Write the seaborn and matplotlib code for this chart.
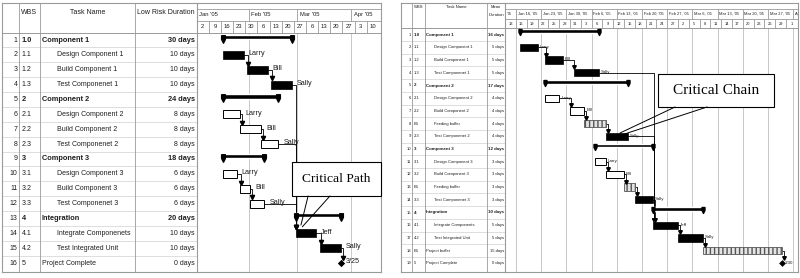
import numpy as np
import pandas as pd
import matplotlib
matplotlib.use("Agg")
import matplotlib.pyplot as plt
import seaborn as sns
from matplotlib.path import Path
from matplotlib.patches import Rectangle

# ================= DATA: left schedule (low-risk durations, critical path) =================
L_wbs = ['1.0', '1.1', '1.2', '1.3', '2', '2.1', '2.2', '2.3', '3', '3.1', '3.2', '3.3',
         '4', '4.1', '4.2', '5']
L_names = ['Component 1', 'Design Component 1', 'Build Component 1', 'Test Componenet 1',
           'Component 2', 'Design Component 2', 'Build Component 2', 'Test Componenet 2',
           'Component 3', 'Design Component 3', 'Build Component 3', 'Test Componenet 3',
           'Integration', 'Integrate Componenets', 'Test Integrated Unit', 'Project Complete']
L_dur = ['30 days', '10 days', '10 days', '10 days', '24 days', '8 days', '8 days', '8 days',
         '18 days', '6 days', '6 days', '6 days', '20 days', '10 days', '10 days', '0 days']
L_level = [0, 1, 1, 1, 0, 1, 1, 1, 0, 1, 1, 1, 0, 1, 1, 0]
L_kind = ['sum', 'crit', 'crit', 'crit', 'sum', 'task', 'task', 'task', 'sum', 'task', 'task',
          'task', 'sum', 'crit', 'crit', 'mile']
# calendar days after Sun Jan 2, 2005
L_start = [15, 15, 29, 43, 15, 15, 25, 37, 15, 15, 25, 31, 57, 57, 71, 83]
L_end = [55, 27, 41, 55, 47, 25, 37, 47, 39, 23, 31, 39, 83, 69, 83, 83]
L_res = ['', 'Larry', 'Bill', 'Sally', '', 'Larry', 'Bill', 'Sally', '', 'Larry', 'Bill', 'Sally',
         '', 'Jeff', 'Sally', '3/25']
L_links = [(2, 3), (3, 4), (6, 7), (7, 8), (10, 11), (11, 12), (4, 14), (8, 14), (12, 14),
           (14, 15), (15, 16)]
L_hdr = ['', 'WBS', 'Task Name', 'Low Risk Duration']
L_top_labels = ["Jan '05", "Feb '05", "Mar '05", "Apr '05"]
L_top_starts = [-1, 30, 58, 89]
L_bot_labels = ['2', '9', '16', '23', '30', '6', '13', '20', '27', '6', '13', '20', '27', '3', '10']
L_bot_starts = [0, 7, 14, 21, 28, 35, 42, 49, 56, 63, 70, 77, 84, 91, 98]
L_grid = [30, 58, 89]

# ================= DATA: right schedule (mean durations, critical chain) =================
R_wbs = ['1.0', '1.1', '1.2', '1.3', '2', '2.1', '2.2', 'B1', '2.3', '3', '3.1', '3.2', 'B1',
         '3.3', '4', '4.1', '4.2', 'B1', '5']
R_names = ['Component 1', 'Design Component 1', 'Build Component 1', 'Test Componenet 1',
           'Component 2', 'Design Component 2', 'Build Component 2', 'Feeding buffer',
           'Test Componenet 2', 'Component 3', 'Design Component 3', 'Build Component 3',
           'Feeding buffer', 'Test Componenet 3', 'Integration', 'Integrate Components',
           'Test Integrated Unit', 'Project buffer', 'Project Complete']
R_dur = ['16 days', '5 days', '5 days', '5 days', '17 days', '4 days', '4 days', '4 days',
         '4 days', '12 days', '3 days', '3 days', '3 days', '3 days', '10 days', '5 days',
         '5 days', '15 days', '0 days']
R_level = [0, 1, 1, 1, 0, 1, 1, 1, 1, 0, 1, 1, 1, 1, 0, 1, 1, 0, 0]
R_kind = ['sum', 'crit', 'crit', 'crit', 'sum', 'task', 'task', 'buf', 'crit', 'sum', 'task',
          'task', 'buf', 'crit', 'sum', 'crit', 'crit', 'buf', 'mile']
# calendar days after Sun Jan 16, 2005
R_start = [1, 1, 8, 16, 8, 8, 15, 19, 25, 22, 22, 25, 30, 33, 38, 38, 45, 52, 74]
R_end = [23, 6, 13, 23, 31, 12, 19, 25, 31, 38, 25, 30, 33, 38, 52, 45, 52, 73.8, 74]
R_res = ['', 'Larry', 'Bill', 'Sally', '', 'Larry', 'Bill', '', 'Sally', '', 'Larry', 'Bill', '',
         'Sally', '', 'Jeff', 'Sally', '', '3/30']
R_links = [(2, 3), (3, 4), (6, 7), (7, 8), (8, 9), (11, 12), (12, 13), (13, 14), (4, 16),
           (9, 16), (14, 16), (16, 17), (17, 18), (18, 19)]
R_hdr = ['', 'WBS', 'Task Name', 'Mean\nDuration']
R_top_labels = ["'05", "Jan 16, '05", "Jan 23, '05", "Jan 30, '05", "Feb 6, '05",
                "Feb 13, '05", "Feb 20, '05", "Feb 27, '05", "Mar 6, '05", "Mar 13, '05",
                "Mar 20, '05", "Mar 27, '05", "Apr 3, '05"]
R_top_starts = [-7, 0, 7, 14, 21, 28, 35, 42, 49, 56, 63, 70, 77]
R_bot_labels = ['13', '16', '19', '22', '25', '28', '31', '3', '6', '9', '12', '15', '18', '21',
                '24', '27', '2', '5', '8', '11', '14', '17', '20', '23', '26', '29', '1']
R_bot_starts = [-3, 0, 3, 6, 9, 12, 15, 18, 21, 24, 27, 30, 33, 36, 39, 42, 45, 48, 51, 54, 57,
                60, 63, 66, 69, 72, 75]
R_grid = [0, 7, 14, 21, 28, 35, 42, 49, 56, 63, 70, 77]

# ================= STYLE =================
sns.set_theme(style="white")
plt.rcParams['font.family'] = ['Liberation Sans', 'DejaVu Sans']
W, H = 800, 278
fig = plt.figure(figsize=(8.0, 2.78), dpi=100)
fig.patch.set_facecolor('white')
BORDER = '#9a9a9a'
GRID = '#c8c8c8'
ROWLINE = '#d0d0d0'
TXT = '#1e1e1e'

cap_path = Path([(-0.5, 1), (0.5, 1), (0.5, 0.0), (0, -1), (-0.5, 0.0), (-0.5, 1)],
                [Path.MOVETO, Path.LINETO, Path.LINETO, Path.LINETO, Path.LINETO, Path.CLOSEPOLY])


def make_ax(x0, x1, top, bot, xlim, ylim):
    ax = fig.add_axes([x0 / W, 1 - bot / H, (x1 - x0) / W, (bot - top) / H])
    ax.set_xlim(*xlim)
    ax.set_ylim(*ylim)
    ax.set_xticks([])
    ax.set_yticks([])
    for sp in ax.spines.values():
        sp.set_visible(False)
    ax.patch.set_alpha(0)
    return ax


def draw_panel(P, wbs, names, dur, level, kind, start, end, res, links, hdr,
               top_labels, top_starts, bot_labels, bot_starts, grid):
    top, bot, y0, rh = P['top'], P['bot'], P['row_y0'], P['row_h']

    def r_of(ypx):
        return 1 + (ypx - y0) / rh

    ylim = (r_of(bot), r_of(top))
    cols = P['cols']
    tab = make_ax(cols[0], cols[-1], top, bot, (cols[0], cols[-1]), ylim)
    s, d0 = P['pxd'], P['day0']
    xl = ((cols[-1] - d0) / s, (P['xr'] - d0) / s)
    gan = make_ax(cols[-1], P['xr'], top, bot, xl, ylim)
    n = len(names)
    fs, fsb = P['fs'], P['fsb']

    # ---- table grid ----
    for r in range(1, n):
        tab.axhline(r + 0.5, color=ROWLINE, lw=0.5)
    tab.axhline(0.5, color=BORDER, lw=0.7)
    for c in cols[1:-1]:
        tab.axvline(c, color=BORDER, lw=0.6)
    for name in ['left', 'top', 'bottom', 'right']:
        tab.spines[name].set_visible(True)
        tab.spines[name].set_color(BORDER)
        tab.spines[name].set_linewidth(0.8)
    for name in ['right', 'top', 'bottom']:
        gan.spines[name].set_visible(True)
        gan.spines[name].set_color(BORDER)
        gan.spines[name].set_linewidth(0.8)

    # ---- table header ----
    for i, h in enumerate(hdr):
        if not h:
            continue
        cx = (cols[i] + cols[i + 1]) / 2
        tab.text(cx, r_of(P['hdr_y']), h, ha='center', va='top', fontsize=fs, color=TXT,
                 linespacing=P['hdr_ls'])

    # ---- table rows ----
    for i in range(n):
        r = i + 1
        bold = kind[i] == 'sum'
        w = 'bold' if bold else 'normal'
        f = fsb if bold else fs
        tab.text(cols[1] - P['pad'], r, str(r), ha='right', va='center', fontsize=fs, color=TXT)
        tab.text(cols[1] + P['pad'] + 1, r, wbs[i], ha='left', va='center', fontsize=f,
                 color=TXT, fontweight=w)
        tab.text(cols[2] + P['pad'] + level[i] * P['indent'], r, names[i], ha='left',
                 va='center', fontsize=f, color=TXT, fontweight=w)
        tab.text(cols[4] - P['pad'], r, dur[i], ha='right',
                 va='center', fontsize=f, color=TXT, fontweight=w)

    # ---- gantt timescale ----
    t_strip, t_mid, t_bot = r_of(P['tier'][0]), r_of(P['tier'][1]), 0.5
    gan.axhline(t_strip, color=BORDER, lw=0.6)
    gan.axhline(t_mid, color=BORDER, lw=0.6)
    gan.axhline(t_bot, color=BORDER, lw=0.7)
    gan.vlines(top_starts, t_strip, t_mid, color=BORDER, lw=0.6)
    gan.vlines(bot_starts, t_mid, t_bot, color=BORDER, lw=0.6)
    for lab, st in zip(top_labels, top_starts):
        x = max(st, xl[0]) + P['tpad'] / s
        gan.text(x, (t_strip + t_mid) / 2, lab, ha='left', va='center',
                 fontsize=P['fsh'], color=TXT, clip_on=True)
    bw = bot_starts[1] - bot_starts[0]
    for lab, st in zip(bot_labels, bot_starts):
        gan.text(st + bw / 2, (t_mid + t_bot) / 2, lab, ha='center', va='center',
                 fontsize=P['fsh'], color=TXT, clip_on=True)
    gan.vlines(grid, 0.5, ylim[0], color=GRID, lw=0.7, zorder=0)

    # ---- bars ----
    bh = P['bar_h']
    for i in range(n):
        r = i + 1
        k, st, en = kind[i], start[i], end[i]
        if k == 'sum':
            gan.barh(r + P['sum_off'], en - st, left=st, height=P['sum_h'], color='black',
                     zorder=3)
            gan.plot([st, en], [r + P['cap_off']] * 2, ls='none', marker=cap_path,
                     ms=P['cap_ms'], color='black', zorder=3)
        elif k == 'crit':
            gan.barh(r, en - st, left=st, height=bh, color='black', edgecolor='black',
                     lw=0.5, zorder=3)
        elif k == 'task':
            gan.barh(r, en - st, left=st, height=bh, color='white', edgecolor='black',
                     lw=0.7, zorder=3)
        elif k == 'buf':
            gan.barh(r, en - st, left=st, height=bh, color='#e4e4e4', edgecolor='#555555',
                     hatch='||||', lw=0.6, zorder=3)
    # milestones via seaborn
    mdf = pd.DataFrame({'day': [end[i] for i in range(n) if kind[i] == 'mile'],
                        'row': [i + 1 for i in range(n) if kind[i] == 'mile']})
    sns.scatterplot(data=mdf, x='day', y='row', marker='D', s=P['mile_s'], color='black',
                    edgecolor='black', linewidth=0, ax=gan, zorder=4, legend=False)
    gan.set_xlabel('')
    gan.set_ylabel('')
    gan.set_xlim(*xl)
    gan.set_ylim(*ylim)
    gan.set_xticks([])
    gan.set_yticks([])

    # ---- links ----
    a_px = P['arrow_px']
    for p, q in links:
        pe, ss = end[p - 1], start[q - 1]
        xv = max(pe + 2.0 / s, ss + 0.8 / s)
        top_q = q - (bh / 2 if kind[q - 1] != 'mile' else P['mile_half'])
        yc = top_q - (a_px / 2) / rh
        gan.plot([pe, xv, xv], [p, p, yc], color='black', lw=0.6, zorder=2)
        gan.plot([xv], [yc], marker='v', ms=a_px * 0.72, color='black', ls='none', zorder=4)

    # ---- resource labels ----
    for i in range(n):
        if res[i]:
            gan.text(end[i] + P['lab_gap'] / s, i + 1 + P['lab_dy'], res[i], ha='left',
                     va='center', fontsize=P['fsl'], color=TXT, zorder=4)
    return tab, gan


LP = dict(top=3, bot=272, row_y0=40, row_h=14.87, cols=[2, 19, 40, 135, 196.7], xr=380.5,
          pxd=1.735, day0=196.7, fs=5.0, fsb=5.3, fsh=4.2, fsl=5.2, pad=1.6, indent=15.5,
          hdr_y=8.5, hdr_ls=1.2, tier=(8.5, 20.7), tpad=2.5, bar_h=0.54, sum_off=-0.2,
          sum_h=0.27, cap_off=-0.07, cap_ms=5.4, mile_s=14, mile_half=0.2, arrow_px=4.2,
          lab_gap=5, lab_dy=-0.08)
RP = dict(top=3, bot=272, row_y0=34.7, row_h=12.7, cols=[401, 412, 425, 487, 505], xr=798,
          pxd=3.6, day0=516, fs=3.0, fsb=3.2, fsh=2.9, fsl=3.2, pad=1.0, indent=8,
          hdr_y=5.5, hdr_ls=2.3, tier=(9.0, 19.0), tpad=1.5, bar_h=0.57, sum_off=-0.29,
          sum_h=0.27, cap_off=-0.18, cap_ms=4.3, mile_s=12, mile_half=0.25, arrow_px=3.6,
          lab_gap=2, lab_dy=-0.05)

ltab, lgan = draw_panel(LP, L_wbs, L_names, L_dur, L_level, L_kind, L_start, L_end, L_res,
                        L_links, L_hdr, L_top_labels, L_top_starts, L_bot_labels,
                        L_bot_starts, L_grid)
rtab, rgan = draw_panel(RP, R_wbs, R_names, R_dur, R_level, R_kind, R_start, R_end, R_res,
                        R_links, R_hdr, R_top_labels, R_top_starts, R_bot_labels,
                        R_bot_starts, R_grid)

SERIF = ['Liberation Serif', 'DejaVu Serif']
# ---- callout: Critical Path ----
lgan.add_patch(Rectangle((54.9, 9.2), 106.0 - 54.9, 11.49 - 9.2, facecolor='white',
                         edgecolor='black', lw=0.8, zorder=6, clip_on=False))
lgan.text((54.9 + 106.0) / 2, 10.35, 'Critical Path', ha='center', va='center',
          fontsize=9.7, family=SERIF, color='black', zorder=7, clip_on=False)
lgan.plot([64.2, 60.1], [11.49, 13.44], color='black', lw=0.7, zorder=6)
lgan.plot([76.8, 60.9], [11.49, 13.56], color='black', lw=0.7, zorder=6)

# ---- callout: Critical Chain ----
rgan.add_patch(Rectangle((39.4, 4.09), 71.7 - 39.4, 6.69 - 4.09, facecolor='white',
                         edgecolor='black', lw=0.8, zorder=6, clip_on=False))
rgan.text((39.4 + 71.7) / 2, 5.39, 'Critical Chain', ha='center', va='center',
          fontsize=11, family=SERIF, color='black', zorder=7)
rgan.plot([44.2, 28.9], [6.69, 8.74], color='black', lw=0.7, zorder=6)
rgan.plot([53.1, 29.7], [6.69, 8.86], color='black', lw=0.7, zorder=6)

fig.savefig('out.png', dpi=100, facecolor='white')
